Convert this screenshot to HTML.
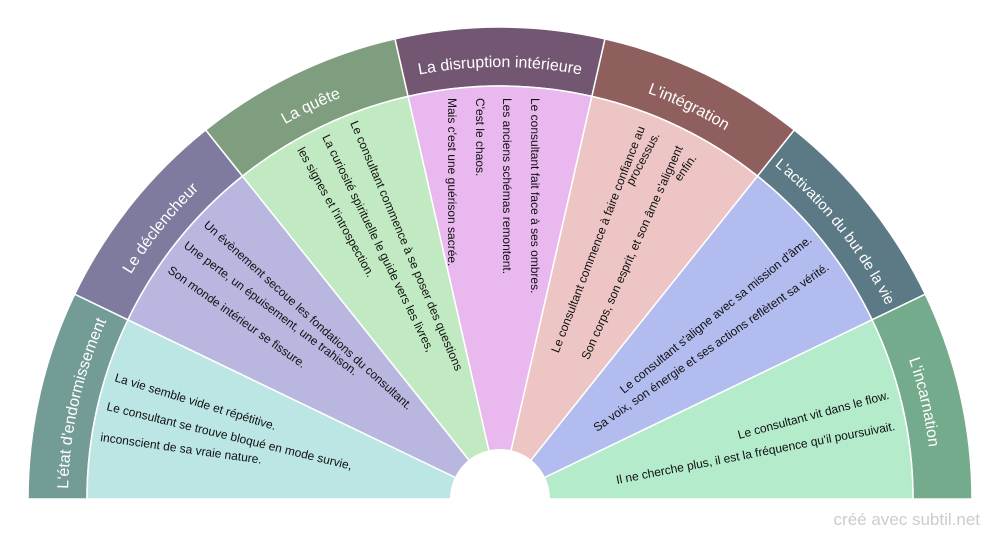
<!DOCTYPE html>
<html><head><meta charset="utf-8"><style>
html,body{margin:0;padding:0;background:#fff;}
svg{display:block;font-family:"Liberation Sans",sans-serif;}
.h{fill:#fff;font-size:16px;}
.t{fill:#111;font-size:12px;}
</style></head><body>
<svg id="s" width="1000" height="540" viewBox="0 0 1000 540">
<defs id="d"></defs>
<g id="w"></g>
<rect x="0" y="499" width="1000" height="41" fill="#fff"/>
<circle cx="500" cy="499" r="50" fill="#fff"/>
<g class="h">
<text><textPath href="#a0" startOffset="50%" text-anchor="middle">L'état d'endormissement</textPath></text>
<text><textPath href="#a1" startOffset="50%" text-anchor="middle">Le déclencheur</textPath></text>
<text><textPath href="#a2" startOffset="50%" text-anchor="middle">La quête</textPath></text>
<text><textPath href="#a3" startOffset="50%" text-anchor="middle">La disruption intérieure</textPath></text>
<text><textPath href="#a4" startOffset="50%" text-anchor="middle">L'intégration</textPath></text>
<text style="font-size:15px"><textPath href="#a5" startOffset="50%" text-anchor="middle">L'activation du but de la vie</textPath></text>
<text><textPath href="#a6" startOffset="50%" text-anchor="middle">L'incarnation</textPath></text>
</g>
<g class="t">
<text transform="translate(114,381) rotate(17)">La vie semble vide et répétitive.</text>
<text transform="translate(106,410) rotate(13.7)">Le consultant se trouve bloqué en mode survie,</text>
<text transform="translate(100,441) rotate(8)">inconscient de sa vraie nature.</text>

<text transform="translate(203,226) rotate(42)">Un évènement secoue les fondations du consultant.</text>
<text transform="translate(183,247) rotate(37)">Une perte, un épuisement, une trahison.</text>
<text transform="translate(167,272) rotate(35.5)">Son monde intérieur se fissure.</text>

<text transform="translate(350,123) rotate(67)">Le consultant commence à se poser des questions</text>
<text transform="translate(322,137) rotate(64)">La curiosité spirituelle le guide vers les livres,</text>
<text transform="translate(297,150) rotate(61)">les signes et l'introspection.</text>

<text transform="translate(531,98) rotate(90)">Le consultant fait face à ses ombres.</text>
<text transform="translate(503,98) rotate(90)">Les anciens schémas remontent.</text>
<text transform="translate(476,98) rotate(90)">C'est le chaos.</text>
<text transform="translate(448,98) rotate(90)">Mais c'est une guérison sacrée.</text>

<text text-anchor="end" transform="translate(645,128) rotate(-69)">Le consultant commence à faire confiance au</text>
<text text-anchor="end" transform="translate(660,135) rotate(-62)">processus.</text>
<text text-anchor="end" transform="translate(683,148) rotate(-66)">Son corps, son esprit, et son âme s'alignent</text>
<text text-anchor="end" transform="translate(697,158) rotate(-55)">enfin.</text>

<text transform="translate(624,394) rotate(-39)">Le consultant s'aligne avec sa mission d'âme.</text>
<text transform="translate(597,432) rotate(-35)">Sa voix, son énergie et ses actions reflètent sa vérité.</text>

<text transform="translate(739,439) rotate(-15)">Le consultant vit dans le flow.</text>
<text transform="translate(617,484) rotate(-11)">Il ne cherche plus, il est la fréquence qu'il poursuivait.</text>
</g>
<text x="980" y="525" text-anchor="end" fill="#cccccc" font-size="17">créé avec subtil.net</text>
</svg>
<script>
(function(){
var cx=500,cy=499,R=472,r=413,ra=432,N=7;
var outer=["#739c97","#7e7b9e","#7f9e7f","#735672","#8f5f5e","#5b7a85","#74ab8c"];
var inner=["#bce6e4","#b9b7e0","#c2eac2","#e9b8ef","#ecc5c4","#b3bcef","#b3ebcb"];
function p(rad,a){var t=a*Math.PI/180;return [cx-rad*Math.cos(t),cy-rad*Math.sin(t)];}
var ns="http://www.w3.org/2000/svg",g=document.getElementById("w"),d=document.getElementById("d");
for(var i=0;i<N;i++){
 var a0=i*180/N,a1=(i+1)*180/N;
 var o0=p(R,a0),o1=p(R,a1),i0=p(r,a0),i1=p(r,a1),c=[cx,cy];
 var pa=document.createElementNS(ns,"path");
 pa.setAttribute("d","M"+i0+"L"+o0+"A"+R+","+R+" 0 0 1 "+o1+"L"+i1+"A"+r+","+r+" 0 0 0 "+i0+"Z");
 pa.setAttribute("fill",outer[i]);pa.setAttribute("stroke","#fff");pa.setAttribute("stroke-width","1.5");g.appendChild(pa);
 var pb=document.createElementNS(ns,"path");
 pb.setAttribute("d","M"+c+"L"+i0+"A"+r+","+r+" 0 0 1 "+i1+"Z");
 pb.setAttribute("fill",inner[i]);pb.setAttribute("stroke","#fff");pb.setAttribute("stroke-width","1.5");g.appendChild(pb);
 var s0=p(ra,a0),s1=p(ra,a1);
 var pc=document.createElementNS(ns,"path");pc.setAttribute("id","a"+i);
 pc.setAttribute("d","M"+s0+"A"+ra+","+ra+" 0 0 1 "+s1);d.appendChild(pc);
}
})();
</script>
</body></html>
